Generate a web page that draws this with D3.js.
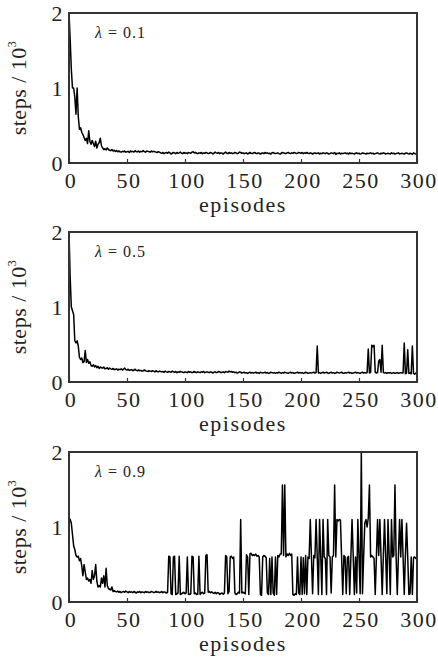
<!DOCTYPE html>
<html>
<head>
  <meta charset="utf-8">
  <script src="https://d3js.org/d3.v7.min.js"></script>
  <style>
    body { margin: 0; background: #fff; }
    svg text { font-family: "Times New Roman", Times, "Liberation Serif", Tinos, "Nimbus Roman", "Noto Serif", FreeSerif, serif; fill: #222; }
    .axis path { display: none; }
    .axis line { stroke: #333; stroke-width: 1.2; }
    .tick text { font-size: 22px; letter-spacing: 1.5px; }
  </style>
</head>
<body>
  <script>
    // episodes 0..300, steps per episode
    var lambdas = ["0.1", "0.5", "0.9"];
    var xTicks = [0, 50, 100, 150, 200, 250, 300];
    var yTicks = [0, 1, 2];

    var steps1 = [
      2000,1650,1250,1000,1000,880,650,1000,620,450,470,410,380,340,300,330,260,430,290,250,
      300,260,220,290,200,250,270,330,230,200,180,190,175,200,180,170,165,180,160,170,
      155,165,150,160,150,145,155,150,160,145,150,155,140,160,150,155,145,165,150,150,
      160,145,155,150,165,150,145,160,155,150,145,160,150,155,150,145,140,150,145,135,
      130,140,125,135,140,130,145,135,120,130,140,135,125,140,130,135,145,130,125,140,
      130,135,125,140,135,130,145,150,135,140,130,125,135,130,140,125,135,130,140,135,
      125,130,140,135,120,130,145,135,130,140,125,135,130,120,135,145,130,125,140,130,
      135,125,130,140,135,125,130,145,140,130,135,125,130,135,120,130,140,130,125,135,
      140,130,125,135,130,120,130,135,125,140,130,135,125,130,120,135,140,130,125,130,
      135,125,120,130,140,135,130,125,135,140,130,125,135,130,140,135,125,130,140,135,
      130,140,125,135,130,140,130,125,135,130,120,130,135,125,130,135,120,130,125,135,
      130,125,135,130,120,125,135,130,125,140,115,130,125,135,120,130,125,130,135,125,
      130,120,135,125,130,125,120,130,135,125,130,120,125,135,130,125,120,130,125,130,
      135,125,130,120,125,130,135,125,120,130,125,135,130,120,125,130,125,120,135,125,
      130,120,125,130,135,120,125,130,125,120,130,135,125,120,130,125,115,135,125,120,
      140
    ];

    var steps2 = [
      2000,1400,1000,950,900,550,520,550,480,330,300,320,260,270,420,260,300,250,270,220,
      210,230,200,220,190,210,180,200,190,185,200,175,180,190,170,185,175,170,180,165,
      170,175,160,170,165,175,160,170,185,165,160,170,155,160,165,150,160,170,155,150,
      160,150,155,145,150,160,150,145,140,150,145,140,150,145,135,150,140,135,145,140,
      135,140,130,145,135,130,140,135,130,145,135,130,140,125,135,130,140,135,130,125,
      135,130,125,140,130,135,125,130,140,130,125,135,130,125,135,130,140,125,130,135,
      130,125,135,130,120,130,135,125,130,140,135,125,130,135,125,140,135,130,145,135,
      140,130,135,125,130,120,125,135,130,120,125,130,120,125,115,125,130,120,125,120,
      125,130,120,125,115,130,125,120,125,130,120,125,115,120,130,125,120,125,115,125,
      120,130,125,115,125,120,130,125,120,115,125,130,120,125,115,120,125,130,120,125,
      120,125,115,120,130,125,115,120,125,120,125,130,120,125,480,120,125,115,125,130,
      120,125,130,120,115,125,130,120,125,115,120,130,125,120,125,130,120,115,125,120,
      125,130,120,125,115,120,125,130,120,125,120,115,125,130,120,125,120,125,440,120,
      130,490,470,490,130,120,125,280,300,130,490,125,120,125,115,125,120,125,115,120,
      125,115,120,125,115,120,125,120,120,520,110,120,430,115,120,110,480,115,105,120,
      110
    ];

    var steps3 = [
      1120,1100,1050,900,750,700,620,600,610,550,580,480,350,500,400,300,320,280,300,250,
      420,300,350,500,280,200,220,200,320,250,350,200,450,220,180,170,160,200,140,150,
      140,135,145,130,140,125,135,140,130,145,135,125,140,130,135,125,140,130,120,135,
      130,140,125,135,130,125,140,130,135,125,130,140,135,125,130,140,130,135,125,130,
      140,125,135,130,120,130,610,600,110,100,600,610,100,110,120,610,100,110,120,130,
      110,120,600,105,100,110,610,600,110,120,100,105,610,100,120,130,110,120,620,630,
      130,140,125,135,120,115,130,110,125,120,100,115,120,105,120,620,600,110,140,600,
      610,580,600,120,100,110,130,120,1100,120,130,120,110,630,600,100,640,650,620,630,
      620,640,610,620,600,100,90,600,620,610,590,120,100,580,100,600,120,90,600,100,
      620,600,640,640,1560,620,1560,600,640,620,650,620,640,100,90,110,100,600,120,100,
      600,100,590,110,620,100,600,580,1100,600,110,620,590,1100,600,100,1100,620,100,1100,
      600,580,100,1100,620,600,120,600,620,1560,600,1100,1080,1100,1090,600,100,620,600,110,
      590,610,100,600,1100,620,100,600,120,1100,600,110,2000,110,600,1050,1100,1000,1120,1560,
      600,620,600,580,100,600,1100,620,1100,600,100,620,1100,600,110,1100,620,100,1100,600,
      620,1560,600,100,620,1100,600,1100,600,100,620,1050,600,100,110,600,100,590,600,580,
      600
    ];

    var series = [steps1, steps2, steps3];

    var margin = {left: 69},
        width = 348,
        height = 150,
        panelTops = [13, 232, 452];

    var svg = d3.select("body").append("svg")
        .attr("width", 438)
        .attr("height", 661);

    var x = d3.scaleLinear().domain([0, 300]).range([0, width]);
    var y = d3.scaleLinear().domain([0, 2]).range([height, 0]);

    var line = d3.line()
        .x((d, i) => x(i))
        .y(d => y(d / 1000));

    svg.append("defs").append("clipPath")
        .attr("id", "clip")
      .append("rect")
        .attr("width", width)
        .attr("height", height);

    series.forEach((data, k) => {
      var g = svg.append("g")
          .attr("transform", "translate(" + margin.left + "," + panelTops[k] + ")");

      g.append("path")
          .datum(data)
          .attr("clip-path", "url(#clip)")
          .attr("fill", "none")
          .attr("stroke", "#000")
          .attr("stroke-width", 1.5)
          .attr("stroke-linejoin", "round")
          .attr("d", line);

      g.append("g")
          .attr("class", "x axis")
          .attr("transform", "translate(0," + height + ")")
          .call(d3.axisBottom(x).tickValues(xTicks).tickSizeInner(-4).tickSizeOuter(0).tickPadding(9))
          .attr("font-family", null)
          .selectAll(".tick text").attr("dx", "0.07em");

      g.append("g")
          .attr("class", "y axis")
          .call(d3.axisLeft(y).tickValues(yTicks).tickSize(0).tickPadding(5).tickFormat(d3.format("d")))
          .attr("font-family", null);

      g.append("rect")
          .attr("width", width)
          .attr("height", height)
          .attr("fill", "none")
          .attr("stroke", "#333")
          .attr("stroke-width", 2);

      var lab = g.append("text")
          .attr("x", 26)
          .attr("y", 25)
          .style("font-size", "16px")
          .style("letter-spacing", "1px");
      lab.append("tspan").style("font-style", "italic").text("λ");
      lab.append("tspan").text(" = " + lambdas[k]);

      g.append("text")
          .attr("x", width / 2)
          .attr("y", height + 49)
          .attr("text-anchor", "middle")
          .style("font-size", "22px")
          .style("letter-spacing", "1.5px")
          .text("episodes");

      var yl = g.append("text")
          .attr("transform", "translate(-43," + (height / 2) + ") rotate(-90)")
          .attr("text-anchor", "middle")
          .style("font-size", "22px")
          .style("letter-spacing", "0.5px");
      yl.append("tspan").text("steps / 10");
      yl.append("tspan").attr("dy", -10).style("font-size", "12px").text("3");
    });
  </script>
</body>
</html>
